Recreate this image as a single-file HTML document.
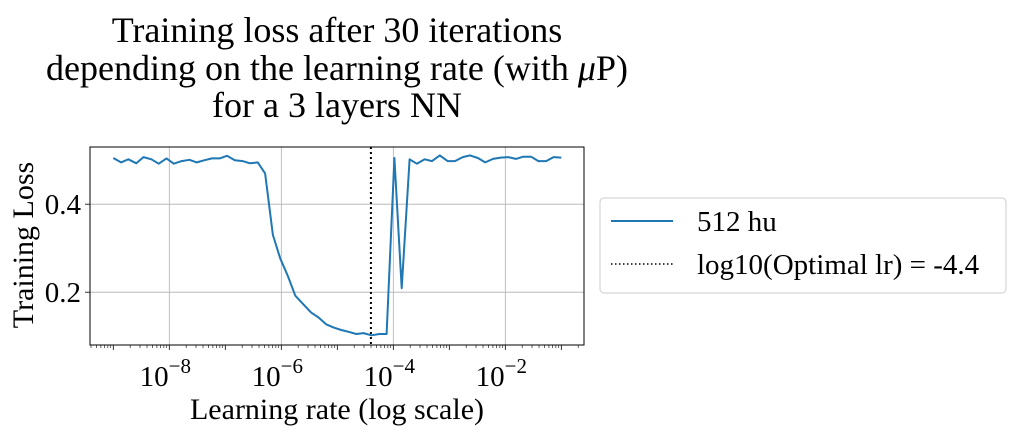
<!DOCTYPE html>
<html><head><meta charset="utf-8"><style>
body{margin:0;background:#fff;}
svg{display:block;font-family:"Liberation Serif",serif;}
</style></head><body>
<svg id="chart" width="1016" height="434" viewBox="0 0 1016 434">
<g font-size="36" text-anchor="middle" fill="#000">
<text x="337" y="42">Training loss after 30 iterations</text>
<text x="337" y="80">depending on the learning rate (with <tspan font-style="italic">μ</tspan>P)</text>
<text x="337" y="117">for a 3 layers NN</text>
</g>
<g id="grid"></g>
<g id="marks"></g>
<rect x="90" y="147" width="494" height="198" fill="none" stroke="#000" stroke-width="1"/>
<g id="ticks"></g>
<text x="337" y="419" font-size="30" text-anchor="middle">Learning rate (log scale)</text>
<text transform="translate(33,245) rotate(-90)" font-size="30" text-anchor="middle">Training Loss</text>
<g>
<rect x="600" y="198" width="406" height="95" rx="4" fill="#fff" stroke="#ccc" stroke-width="1"/>
<line x1="611" y1="221" x2="673" y2="221" stroke="#1f77b4" stroke-width="2"/>
<text x="697" y="231" font-size="29">512 hu</text>
<line x1="611" y1="264" x2="673" y2="264" stroke="#000" stroke-width="1.5" stroke-dasharray="1.5,2.5"/>
<text x="697" y="274" font-size="29">log10(Optimal lr) = -4.4</text>
</g>
</svg>
<script>
const logLr = [-9.00,-8.86,-8.73,-8.59,-8.46,-8.32,-8.19,-8.05,-7.92,-7.78,-7.64,-7.51,-7.37,-7.24,-7.10,-6.97,-6.83,-6.69,-6.56,-6.42,-6.29,-6.15,-6.02,-5.88,-5.75,-5.61,-5.47,-5.34,-5.20,-5.07,-4.93,-4.80,-4.66,-4.53,-4.39,-4.25,-4.12,-3.98,-3.85,-3.71,-3.58,-3.44,-3.31,-3.17,-3.03,-2.90,-2.76,-2.63,-2.49,-2.36,-2.22,-2.08,-1.95,-1.81,-1.68,-1.54,-1.41,-1.27,-1.14,-1.00];
const loss = [0.505,0.495,0.502,0.493,0.507,0.502,0.492,0.504,0.492,0.498,0.501,0.495,0.500,0.504,0.504,0.510,0.500,0.498,0.493,0.495,0.470,0.330,0.277,0.236,0.192,0.173,0.154,0.143,0.127,0.120,0.114,0.110,0.105,0.107,0.102,0.105,0.105,0.505,0.209,0.502,0.492,0.502,0.498,0.511,0.498,0.498,0.507,0.511,0.505,0.495,0.503,0.506,0.507,0.503,0.508,0.508,0.498,0.498,0.507,0.506];
const optimalLog = [-4.4];
const xTickExps = [-8,-6,-4,-2];
const yTicks = [0.2,0.4];
const yTickLabels = ["0.2","0.4"];

const NS="http://www.w3.org/2000/svg";
const X0=90,X1=584,Y0=147,Y1=345;
const xMin=-9.416,xMax=-0.595,yMin=0.080,yMax=0.530;
const xs=v=>X0+(v-xMin)/(xMax-xMin)*(X1-X0);
const ys=v=>Y1-(v-yMin)/(yMax-yMin)*(Y1-Y0);
function mk(tag,attrs,parent){const e=document.createElementNS(NS,tag);for(const k in attrs)e.setAttribute(k,attrs[k]);parent.appendChild(e);return e;}
const grid=document.getElementById('grid'),marks=document.getElementById('marks'),ticks=document.getElementById('ticks');
xTickExps.forEach(e=>{
  const x=xs(e);
  const g=mk('line',{x1:x,y1:Y0,x2:x,y2:Y1,stroke:'#b0b0b0','stroke-width':0.8},grid);
  
  
  const t=mk('line',{x1:x,y1:Y1,x2:x,y2:Y1+5,stroke:'#000','stroke-width':0.8},ticks);
  
  
  const tx=mk('text',{x:x-4,y:Y1+41,'font-size':29,'text-anchor':'middle'},ticks);
  
  
  tx.textContent='10';
  const sp=mk('tspan',{dy:-13,'font-size':21},tx);sp.textContent='\u2212'+Math.abs(e);
});
for(let d=-10;d<=-1;d++){for(let m=2;m<=9;m++){const v=d+Math.log10(m);const x=xs(v);if(x<X0||x>X1)continue;
  const t=mk('line',{x1:x,y1:Y1,x2:x,y2:Y1+3,stroke:'#000','stroke-width':0.6},ticks);
  
  }}
[-9,-7,-5,-3,-1].forEach(e=>{const x=xs(e);
  const t=mk('line',{x1:x,y1:Y1,x2:x,y2:Y1+5,stroke:'#000','stroke-width':0.8},ticks);
  
  });
yTicks.forEach((v,i)=>{const y=ys(v);
  const g=mk('line',{x1:X0,y1:y,x2:X1,y2:y,stroke:'#b0b0b0','stroke-width':0.8},grid);
  
  
  const t=mk('line',{x1:X0-5,y1:y,x2:X0,y2:y,stroke:'#000','stroke-width':0.8},ticks);
  
  
  const tx=mk('text',{x:X0-9,y:y+10,'font-size':29,'text-anchor':'end'},ticks);
  
  
  tx.textContent=yTickLabels[i];});
const pts=logLr.map((v,i)=>xs(v).toFixed(1)+','+ys(loss[i]).toFixed(1)).join(' ');
const pl=mk('polyline',{points:pts,fill:'none',stroke:'#1f77b4','stroke-width':2,'stroke-linejoin':'round'},marks);


optimalLog.forEach(v=>{const x=xs(v);
  const l=mk('line',{x1:x,y1:Y0,x2:x,y2:Y1,stroke:'#000','stroke-width':2,'stroke-dasharray':'2,3'},marks);
  
  });
</script>
</body></html>
